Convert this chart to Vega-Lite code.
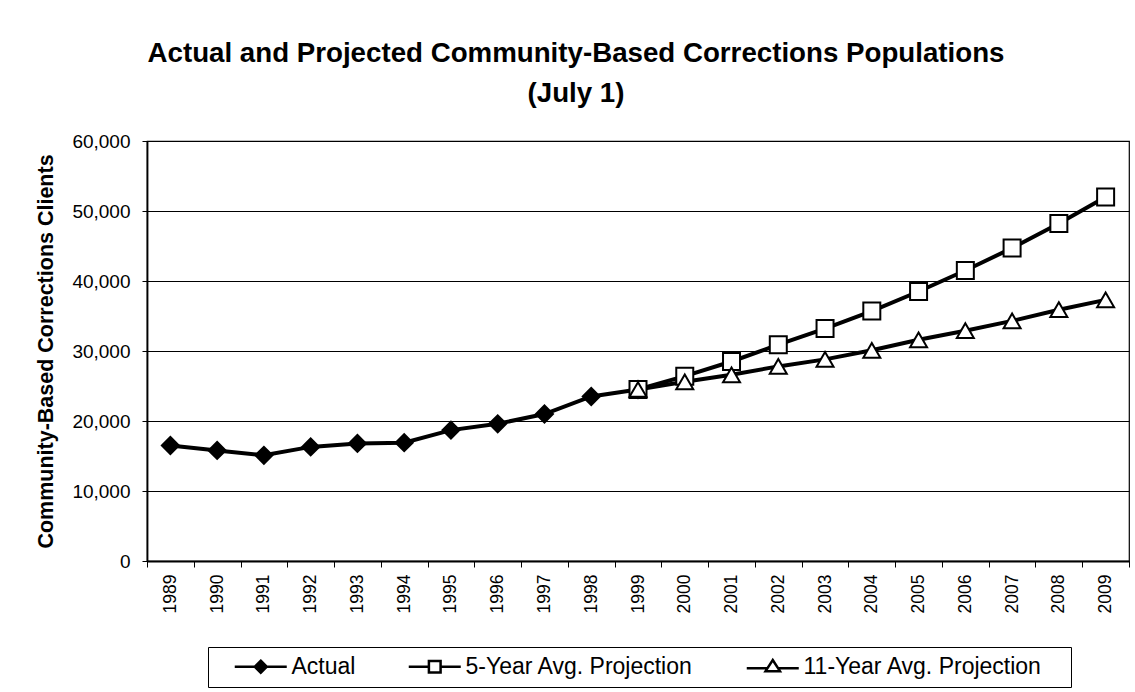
{
  "$schema": "https://vega.github.io/schema/vega-lite/v6.json",
  "autosize": "none",
  "width": 982,
  "height": 420,
  "padding": {"left": 147, "top": 141, "right": 6, "bottom": 131},
  "background": "white",
  "config": {
    "font": "Liberation Sans",
    "view": {"stroke": "black", "strokeWidth": 1.2}
  },
  "title": {
    "text": ["Actual and Projected Community-Based Corrections Populations", "(July 1)"],
    "font": "Liberation Sans",
    "fontSize": 27.7,
    "fontWeight": "bold",
    "color": "black",
    "anchor": "middle",
    "dx": -62,
    "lineHeight": 40,
    "offset": 24
  },
  "data": {
    "values": [
      {"year": "1989", "series": "Actual", "value": 16500},
      {"year": "1990", "series": "Actual", "value": 15800},
      {"year": "1991", "series": "Actual", "value": 15100},
      {"year": "1992", "series": "Actual", "value": 16300},
      {"year": "1993", "series": "Actual", "value": 16800},
      {"year": "1994", "series": "Actual", "value": 16900},
      {"year": "1995", "series": "Actual", "value": 18700},
      {"year": "1996", "series": "Actual", "value": 19600},
      {"year": "1997", "series": "Actual", "value": 21000},
      {"year": "1998", "series": "Actual", "value": 23500},
      {"year": "1999", "series": "Actual", "value": 24500},
      {"year": "1999", "series": "5-Year Avg. Projection", "value": 24500},
      {"year": "2000", "series": "5-Year Avg. Projection", "value": 26400},
      {"year": "2001", "series": "5-Year Avg. Projection", "value": 28500},
      {"year": "2002", "series": "5-Year Avg. Projection", "value": 30900},
      {"year": "2003", "series": "5-Year Avg. Projection", "value": 33200},
      {"year": "2004", "series": "5-Year Avg. Projection", "value": 35700},
      {"year": "2005", "series": "5-Year Avg. Projection", "value": 38500},
      {"year": "2006", "series": "5-Year Avg. Projection", "value": 41500},
      {"year": "2007", "series": "5-Year Avg. Projection", "value": 44700},
      {"year": "2008", "series": "5-Year Avg. Projection", "value": 48200},
      {"year": "2009", "series": "5-Year Avg. Projection", "value": 52000},
      {"year": "1999", "series": "11-Year Avg. Projection", "value": 24500},
      {"year": "2000", "series": "11-Year Avg. Projection", "value": 25600},
      {"year": "2001", "series": "11-Year Avg. Projection", "value": 26600},
      {"year": "2002", "series": "11-Year Avg. Projection", "value": 27800},
      {"year": "2003", "series": "11-Year Avg. Projection", "value": 28800},
      {"year": "2004", "series": "11-Year Avg. Projection", "value": 30100},
      {"year": "2005", "series": "11-Year Avg. Projection", "value": 31600},
      {"year": "2006", "series": "11-Year Avg. Projection", "value": 32900},
      {"year": "2007", "series": "11-Year Avg. Projection", "value": 34300},
      {"year": "2008", "series": "11-Year Avg. Projection", "value": 35900},
      {"year": "2009", "series": "11-Year Avg. Projection", "value": 37300}
    ]
  },
  "encoding": {
    "x": {
      "field": "year",
      "type": "ordinal",
      "scale": {"type": "band", "paddingInner": 0, "paddingOuter": 0},
      "axis": {
        "title": null,
        "labelAngle": -90,
        "labelFont": "Liberation Sans",
        "labelFontSize": 17.5,
        "labelColor": "black",
        "labelPadding": 7,
        "tickBand": "extent",
        "tickSize": 6,
        "tickColor": "black",
        "domainColor": "black",
        "domainWidth": 1.8,
        "grid": false
      }
    },
    "y": {
      "field": "value",
      "type": "quantitative",
      "scale": {"domain": [0, 60000], "nice": false},
      "axis": {
        "title": "Community-Based Corrections Clients",
        "titleFont": "Liberation Sans",
        "titleFontSize": 21.5,
        "titleFontWeight": "bold",
        "titleColor": "black",
        "titlePadding": 14,
        "values": [0, 10000, 20000, 30000, 40000, 50000, 60000],
        "format": ",d",
        "labelFont": "Liberation Sans",
        "labelFontSize": 19,
        "labelColor": "black",
        "labelPadding": 12,
        "tickSize": 5,
        "tickColor": "black",
        "domainColor": "black",
        "domainWidth": 1.8,
        "grid": true,
        "gridColor": "black",
        "gridWidth": 1,
        "gridOpacity": 1
      }
    }
  },
  "layer": [
    {
      "mark": {"type": "line", "stroke": "black", "strokeWidth": 4},
      "encoding": {"detail": {"field": "series"}}
    },
    {
      "mark": {"type": "point", "filled": false, "stroke": "black", "strokeWidth": 2.5, "size": 256, "opacity": 0},
      "encoding": {
        "shape": {
          "field": "series",
          "type": "nominal",
          "sort": null,
          "scale": {
            "domain": ["Actual", "5-Year Avg. Projection", "11-Year Avg. Projection"],
            "range": [
              "M-3.25,0L3.25,0M0,-0.75L0.75,0L0,0.75L-0.75,0ZM0,-0.45L0.45,0L0,0.45L-0.45,0ZM0,-0.15L0.15,0L0,0.15L-0.15,0Z",
              "M-3.25,0L-0.73,0M0.73,0L3.25,0M-0.73,-0.73L0.73,-0.73L0.73,0.73L-0.73,0.73Z",
              "M-3.25,0.2L-0.675,0.2M0.675,0.2L3.25,0.2M0,-0.85L0.9,0.55L-0.9,0.55Z"
            ]
          },
          "legend": {
            "title": "\u00a0",
            "titleOrient": "right",
            "titleFontSize": 10,
            "titlePadding": 21,
            "orient": "none",
            "legendX": 61,
            "legendY": 506,
            "direction": "horizontal",
            "columns": 3,
            "columnPadding": 34,
            "padding": 8,
            "strokeColor": "black",
            "fillColor": "white",
            "symbolSize": 256,
            "symbolStrokeWidth": 2.5,
            "symbolStrokeColor": "black",
            "symbolFillColor": "white",
            "symbolOpacity": 1,
            "symbolOffset": 33.25,
            "labelOffset": 19.25,
            "labelLimit": 0,
            "labelFont": "Liberation Sans",
            "labelFontSize": 23,
            "labelColor": "black",
            "labelBaseline": "middle"
          }
        }
      }
    },
    {
      "mark": {"type": "point", "filled": false, "stroke": "black", "strokeWidth": 2, "size": 289, "opacity": 1},
      "encoding": {
        "shape": {
          "field": "series",
          "type": "nominal",
          "sort": null,
          "scale": {
            "domain": ["Actual", "5-Year Avg. Projection", "11-Year Avg. Projection"],
            "range": ["diamond", "square", "triangle-up"]
          },
          "legend": null
        },
        "fill": {
          "field": "series",
          "type": "nominal",
          "scale": {
            "domain": ["Actual", "5-Year Avg. Projection", "11-Year Avg. Projection"],
            "range": ["black", "white", "white"]
          },
          "legend": null
        }
      }
    }
  ],
  "resolve": {"scale": {"shape": "independent"}}
}
